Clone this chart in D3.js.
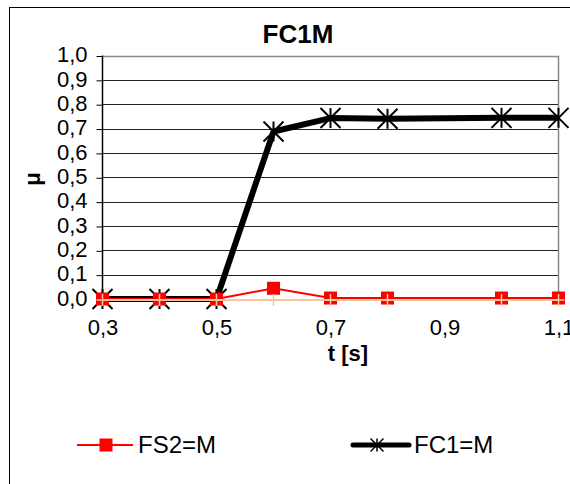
<!DOCTYPE html>
<html>
<head>
<meta charset="utf-8">
<script src="https://cdn.jsdelivr.net/npm/d3@7"></script>
<style>
  html, body { margin: 0; padding: 0; background: #fff; }
  svg { display: block; font-family: "Liberation Sans", Arial, sans-serif; }
</style>
</head>
<body>
<svg id="chart" width="570" height="484"></svg>
<script>
// ---- data ----
const chartTitle = "FC1M";
const xTitle = "t [s]";
const yTitle = "μ";
const tValues = [0.3, 0.4, 0.5, 0.6, 0.7, 0.8, 1.0, 1.1];
const fs2Values = [0, 0, 0, 0.044, 0.004, 0.004, 0.004, 0.004];
const fc1Values = [0, 0, 0, 0.688, 0.743, 0.740, 0.744, 0.744];
const thirdValues = [0, 0, 0, 0, 0, 0, 0, 0];
const xTickValues = [0.3, 0.5, 0.7, 0.9, 1.1];
const yTickValues = [0, 0.1, 0.2, 0.3, 0.4, 0.5, 0.6, 0.7, 0.8, 0.9, 1.0];
const legendNames = ["FS2=M", "FC1=M"];

// ---- layout ----
const svg = d3.select("#chart");
const plot = { left: 102.5, right: 558.5, top: 55.5, bottom: 299 };
const x = d3.scaleLinear().domain([0.3, 1.1]).range([plot.left, plot.right]);
const y = d3.scaleLinear().domain([0, 1]).range([plot.bottom, plot.top]);
const fmt = v => d3.format(".1f")(v).replace(".", ",");

// outer chart border (extends beyond the image)
svg.append("rect").attr("x", 9.5).attr("y", 7.5).attr("width", 620).attr("height", 620)
  .attr("fill", "none").attr("stroke", "#000").attr("stroke-width", 1);

// title
svg.append("text").attr("x", 298).attr("y", 43).attr("text-anchor", "middle")
  .attr("font-size", 26).attr("font-weight", "bold").text(chartTitle);

// horizontal gridlines
svg.append("g").selectAll("line").data(yTickValues.filter(v => v > 0 && v < 1)).join("line")
  .attr("x1", plot.left).attr("x2", plot.right)
  .attr("y1", d => Math.round(y(d)) + 0.5).attr("y2", d => Math.round(y(d)) + 0.5)
  .attr("stroke", "#222").attr("stroke-width", 1);

// plot border top/right (gray)
svg.append("path")
  .attr("d", `M${plot.left},${Math.round(y(1)) + 0.5}H${plot.right}V${plot.bottom}`)
  .attr("fill", "none").attr("stroke", "#888").attr("stroke-width", 1.5);

// y axis
const yAxis = d3.axisLeft(y).tickValues(yTickValues).tickFormat(fmt).tickSize(6).tickPadding(9);
const gy = svg.append("g").attr("transform", `translate(${plot.left},0)`).call(yAxis);
gy.select(".domain").attr("stroke", "#000").attr("stroke-width", 1.5).attr("d", `M0,${y(1)}V${plot.bottom + 4}`);
gy.selectAll(".tick line").attr("stroke", "#000").attr("y1", 0.5).attr("y2", 0.5);
gy.selectAll(".tick text").attr("font-size", 22).attr("fill", "#000").attr("font-family", "Liberation Sans, Arial, sans-serif").attr("dy", "0.28em");

// x axis
const xAxis = d3.axisBottom(x).tickValues(xTickValues).tickFormat(fmt).tickSize(0).tickPadding(20);
const gx = svg.append("g").attr("transform", `translate(0,${plot.bottom})`).call(xAxis);
gx.select(".domain").attr("stroke", "#000").attr("stroke-width", 1);
gx.selectAll(".tick text").attr("font-size", 22).attr("fill", "#000").attr("font-family", "Liberation Sans, Arial, sans-serif");

// axis titles
svg.append("text").attr("x", 348).attr("y", 361).attr("text-anchor", "middle")
  .attr("font-size", 22).attr("font-weight", "bold").text(xTitle);
svg.append("text").attr("transform", "translate(40,179) rotate(-90)").attr("text-anchor", "middle")
  .attr("font-size", 22).attr("font-weight", "bold").text(yTitle);

// ---- series ----
const line = d3.line().x(d => x(d.t)).y(d => y(d.v));
const mk = vals => tValues.map((t, i) => ({ t, v: vals[i] }));

function asterisk(g, s, w) {
  g.append("line").attr("x1", -s).attr("y1", -s).attr("x2", s).attr("y2", s);
  g.append("line").attr("x1", -s).attr("y1", s).attr("x2", s).attr("y2", -s);
  g.append("line").attr("x1", 0).attr("y1", -s).attr("x2", 0).attr("y2", s);
  g.attr("stroke", "#000").attr("stroke-width", w);
}

// FC1=M (black)
const fc1 = mk(fc1Values);
svg.append("path").datum(fc1).attr("d", line).attr("fill", "none")
  .attr("stroke", "#000").attr("stroke-width", 6).attr("stroke-linejoin", "round");
svg.append("g").selectAll("g").data(fc1).join("g")
  .attr("transform", d => `translate(${x(d.t)},${y(d.v)})`)
  .each(function () { asterisk(d3.select(this), 10, 2); });

// FS2=M (red)
const fs2 = mk(fs2Values);
svg.append("path").datum(fs2).attr("d", line).attr("fill", "none")
  .attr("stroke", "#ff0000").attr("stroke-width", 2);
svg.append("g").selectAll("rect").data(fs2).join("rect")
  .attr("x", d => x(d.t) - 6.5).attr("y", d => y(d.v) - 6.5)
  .attr("width", 13).attr("height", 13).attr("fill", "#ff0000");

// third series (peach, plus markers)
const third = mk(thirdValues);
svg.append("path").datum(third).attr("d", line).attr("fill", "none")
  .attr("stroke", "#f5c79c").attr("stroke-width", 2).attr("transform", "translate(0,1)");
svg.append("g").selectAll("path").data(third).join("path")
  .attr("d", d => { const cx = x(d.t), cy = y(d.v) + 1; return `M${cx - 6},${cy}H${cx + 6}M${cx},${cy - 6}V${cy + 6}`; })
  .attr("stroke", "#f5c79c").attr("stroke-width", 1.5).attr("fill", "none");

// ---- legend ----
const lg1 = svg.append("g");
lg1.append("line").attr("x1", 77).attr("x2", 133).attr("y1", 445).attr("y2", 445)
  .attr("stroke", "#ff0000").attr("stroke-width", 2);
lg1.append("rect").attr("x", 99.5).attr("y", 438.5).attr("width", 13).attr("height", 13).attr("fill", "#ff0000");
lg1.append("text").attr("x", 138).attr("y", 453).attr("font-size", 24).text(legendNames[0]);

const lg2 = svg.append("g");
lg2.append("line").attr("x1", 353).attr("x2", 409).attr("y1", 445).attr("y2", 445)
  .attr("stroke", "#000").attr("stroke-width", 5).attr("stroke-linecap", "round");
const a = lg2.append("g").attr("transform", "translate(377,445)");
asterisk(a, 6.5, 1.5);
lg2.append("text").attr("x", 414).attr("y", 453).attr("font-size", 24).text(legendNames[1]);
</script>
</body>
</html>
